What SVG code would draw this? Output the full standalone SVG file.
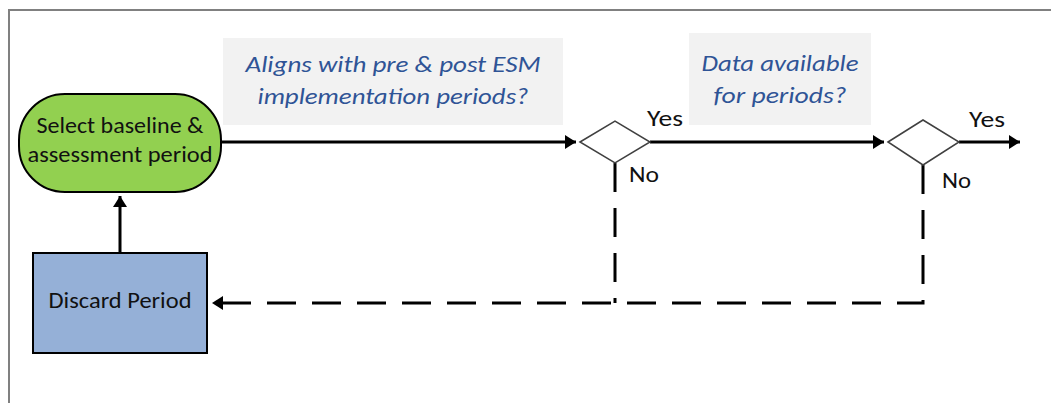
<svg xmlns="http://www.w3.org/2000/svg" width="1051" height="403" viewBox="0 0 1051 403">
  <style>
    .txt { font-family: Carlito, "Liberation Sans", Arial, sans-serif; font-size: 23px; fill: #111; }
    .q { font-family: Carlito, "Liberation Sans", Arial, sans-serif; font-size: 23px; font-style: italic; fill: #2f5496; }
    .lbl { font-family: Carlito, "Liberation Sans", Arial, sans-serif; font-size: 23px; fill: #111; }
    .flow { fill: none; stroke: #000; stroke-width: 3; }
    .dash { fill: none; stroke: #000; stroke-width: 3; stroke-dasharray: 29 16; }
    .qbox { fill: #f2f2f2; stroke: none; }
    .diamond { fill: #fff; stroke: #404040; stroke-width: 1.5; }
  </style>
  <defs>
    <marker id="arrow" markerUnits="userSpaceOnUse" markerWidth="12" markerHeight="14" viewBox="0 0 12 14" refX="11" refY="7" orient="auto">
      <path d="M0,0 L11,7 L0,14 z" fill="#000"/>
    </marker>
  </defs>

  <rect width="1051" height="403" fill="#fff"/>
  <!-- outer frame -->
  <path d="M9,403 V10 H1051" fill="none" stroke="#808080" stroke-width="2"/>

  <!-- question captions -->
  <g id="caption-align">
    <rect class="qbox" x="223" y="38" width="340" height="87"/>
    <text class="q" x="393" y="72" text-anchor="middle" textLength="295" lengthAdjust="spacingAndGlyphs">Aligns with pre &amp; post ESM</text>
    <text class="q" x="393" y="104" text-anchor="middle" textLength="271" lengthAdjust="spacingAndGlyphs">implementation periods?</text>
  </g>
  <g id="caption-data">
    <rect class="qbox" x="689" y="33" width="182" height="92"/>
    <text class="q" x="780" y="71" text-anchor="middle" textLength="157" lengthAdjust="spacingAndGlyphs">Data available</text>
    <text class="q" x="780" y="103" text-anchor="middle" textLength="133" lengthAdjust="spacingAndGlyphs">for periods?</text>
  </g>

  <!-- connectors -->
  <g id="connectors">
    <path class="flow" d="M221,142 H576" marker-end="url(#arrow)"/>
    <path class="flow" d="M650,142 H884" marker-end="url(#arrow)"/>
    <path class="flow" d="M959,142 H1020" marker-end="url(#arrow)"/>
    <path class="flow" d="M120,253 V196" marker-end="url(#arrow)"/>
    <path class="dash" d="M615,163 V303"/>
    <path class="dash" d="M923,165 V303 H212" marker-end="url(#arrow)"/>
  </g>

  <!-- start / terminator -->
  <g id="select-period">
    <rect x="19" y="94" width="202" height="98" rx="46" ry="46" fill="#92d050" stroke="#000" stroke-width="2"/>
    <text class="txt" x="120" y="133" text-anchor="middle" textLength="167" lengthAdjust="spacingAndGlyphs">Select baseline &amp;</text>
    <text class="txt" x="120" y="162" text-anchor="middle" textLength="185" lengthAdjust="spacingAndGlyphs">assessment period</text>
  </g>

  <!-- discard step -->
  <g id="discard-period">
    <rect x="33" y="253" width="174" height="100" fill="#95b0d7" stroke="#000" stroke-width="2"/>
    <text class="txt" x="120" y="308" text-anchor="middle" textLength="143" lengthAdjust="spacingAndGlyphs">Discard Period</text>
  </g>

  <!-- decision 1 -->
  <g id="decision-align">
    <path class="diamond" d="M580,142 L615,121 L650,142 L615,163 z"/>
    <text class="lbl" x="647" y="126" textLength="36" lengthAdjust="spacingAndGlyphs">Yes</text>
    <text class="lbl" x="629" y="182" textLength="30" lengthAdjust="spacingAndGlyphs">No</text>
  </g>

  <!-- decision 2 -->
  <g id="decision-data">
    <path class="diamond" d="M888,142 L923,120 L959,142 L923,165 z"/>
    <text class="lbl" x="969" y="127" textLength="36" lengthAdjust="spacingAndGlyphs">Yes</text>
    <text class="lbl" x="942" y="188" textLength="29" lengthAdjust="spacingAndGlyphs">No</text>
  </g>
</svg>
